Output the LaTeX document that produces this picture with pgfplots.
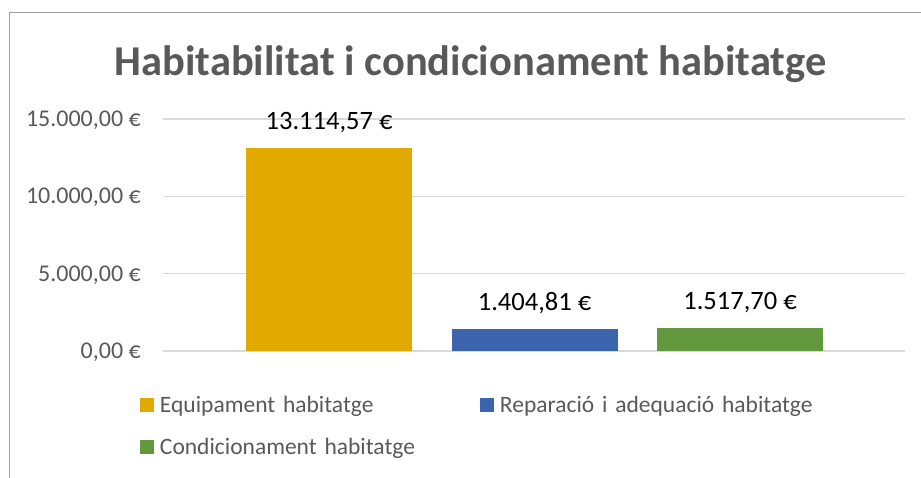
\documentclass[border=0pt]{standalone}
\usepackage{pgfplots}
\pgfplotsset{compat=1.18}
\usepackage{fontspec}
\setmainfont{Carlito}
\definecolor{cgold}{HTML}{E2AA00}
\definecolor{cblue}{HTML}{3C64AC}
\definecolor{cgreen}{HTML}{62983E}
\definecolor{textgray}{HTML}{595959}
\definecolor{gridgray}{HTML}{D9D9D9}
\definecolor{bordergray}{HTML}{A0A0A0}
\pgfplotsset{sqlegend/.style={legend image code/.code={\fill[##1,draw=none] (0pt,-7pt) rectangle (14pt,7pt);}}}
\begin{document}
\begin{tikzpicture}[x=1pt,y=1pt]
\draw[color=bordergray, line width=1pt] (9,-20) -- (9,465) -- (940,465);
\node[font=\fontsize{42.5}{50}\selectfont\bfseries, text=textgray, anchor=base, inner sep=0pt] at (470.5,402) {Habitabilitat i condicionament habitatge};
\begin{axis}[
  at={(163pt,127pt)}, anchor=south west,
  scale only axis, width=742pt, height=232pt,
  xmin=-0.808, xmax=2.803, ymin=0, ymax=15000,
  axis line style={draw=none}, tick style={draw=none},
  xtick=\empty,
  scaled y ticks=false,
  ytick={0,5000,10000,15000},
  yticklabels={{0,00 €},{5.000,00 €},{10.000,00 €},{15.000,00 €}},
  yticklabel style={font=\fontsize{24}{28}\selectfont, text=textgray, inner sep=0pt, anchor=base east, xshift=-22pt, yshift=-7.6pt},
  ymajorgrids, grid style={color=gridgray, line width=1.2pt},
  ybar, bar width=166pt, bar shift=0pt,
  nodes near coords, point meta=explicit symbolic,
  nodes near coords style={font=\fontsize{26.5}{30}\selectfont, text=black, anchor=base, inner sep=0pt, yshift=18.5pt},
  legend columns=2,
  legend style={at={(-0.031,-0.1927)}, anchor=north west, draw=none, fill=none, inner sep=0pt, outer sep=0pt,
    font=\fontsize{23.5}{28}\selectfont, text=textgray, row sep=23.4pt,
    cells={anchor=west}, nodes={inner sep=0pt, outer sep=0pt},
    /tikz/every odd column/.append style={column sep=6pt},
    /tikz/every even column/.append style={text width=320pt, align=left, text height=17pt, text depth=1.6pt, inner sep=0pt}},
]
\addplot[fill=cgold, draw=none, sqlegend] coordinates {(0,13114.57) [13.114,57 €]};
\addlegendentry{Equipament habitatge}
\addplot[fill=cblue, draw=none, sqlegend] coordinates {(1,1404.81) [1.404,81 €]};
\addlegendentry{Reparació i adequació habitatge}
\addplot[fill=cgreen, draw=none, sqlegend] coordinates {(2,1517.70) [1.517,70 €]};
\addlegendentry{Condicionament habitatge}
\end{axis}
\pgfresetboundingbox
\useasboundingbox (0,0) rectangle (921,478);
\end{tikzpicture}
\end{document}
